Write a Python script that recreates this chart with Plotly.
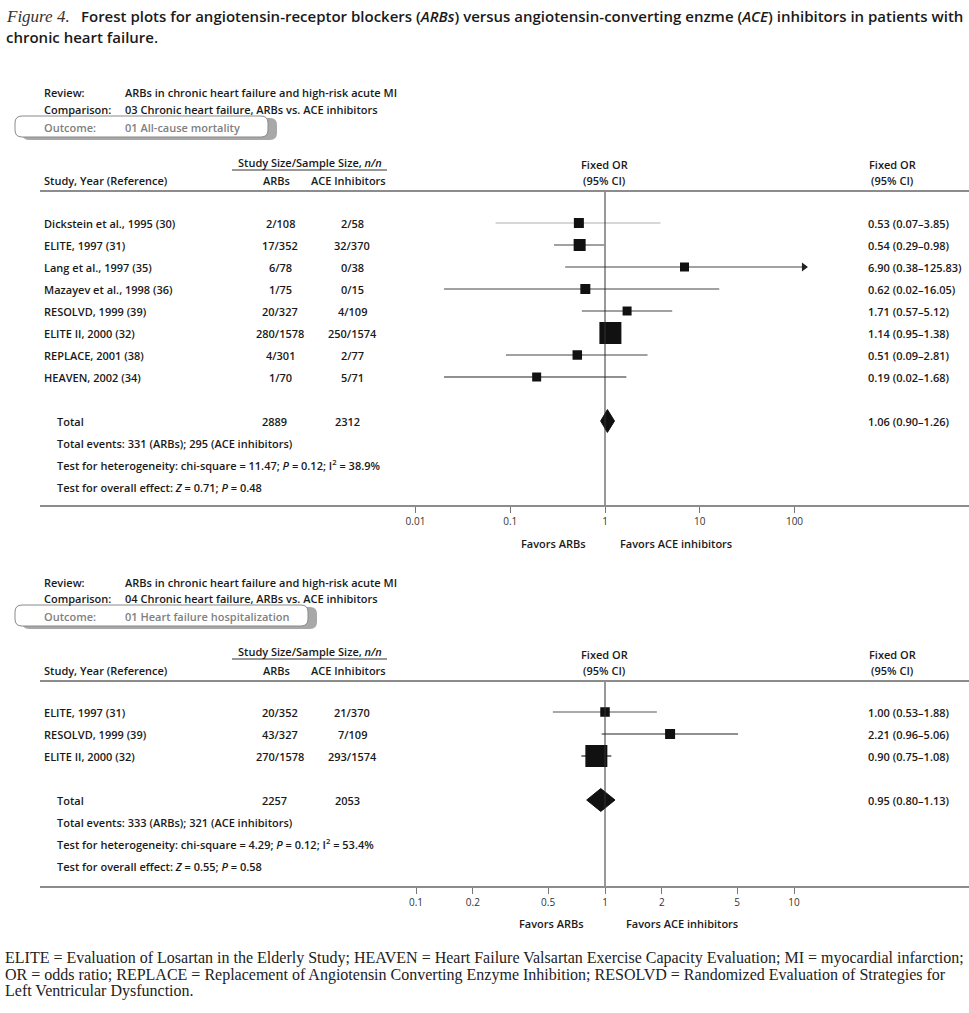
import plotly.graph_objects as go

W, H = 969, 1013
FONT = "Open Sans"
SERIF = "Liberation Serif"
TXT = "#1a1a1a"
WEIGHT = 600

# ---------------- data ----------------
top_studies = ["Dickstein et al., 1995 (30)", "ELITE, 1997 (31)", "Lang et al., 1997 (35)",
               "Mazayev et al., 1998 (36)", "RESOLVD, 1999 (39)", "ELITE II, 2000 (32)",
               "REPLACE, 2001 (38)", "HEAVEN, 2002 (34)"]
top_arb = ["2/108", "17/352", "6/78", "1/75", "20/327", "280/1578", "4/301", "1/70"]
top_ace = ["2/58", "32/370", "0/38", "0/15", "4/109", "250/1574", "2/77", "5/71"]
top_or = [0.53, 0.54, 6.90, 0.62, 1.71, 1.14, 0.51, 0.19]
top_lo = [0.07, 0.29, 0.38, 0.02, 0.57, 0.95, 0.09, 0.02]
top_hi = [3.85, 0.98, 125.83, 16.05, 5.12, 1.38, 2.81, 1.68]
top_total = {"arb": "2889", "ace": "2312", "or": 1.06, "lo": 0.90, "hi": 1.26}
top_notes = ["Total events: 331 (ARBs); 295 (ACE inhibitors)",
             "Test for heterogeneity: chi-square = 11.47; <i>P</i> = 0.12; I<sup>2</sup> = 38.9%",
             "Test for overall effect: <i>Z</i> = 0.71; <i>P</i> = 0.48"]
top_ticks = [0.01, 0.1, 1, 10, 100]
top_ticktext = ["0.01", "0.1", "1", "10", "100"]

bot_studies = ["ELITE, 1997 (31)", "RESOLVD, 1999 (39)", "ELITE II, 2000 (32)"]
bot_arb = ["20/352", "43/327", "270/1578"]
bot_ace = ["21/370", "7/109", "293/1574"]
bot_or = [1.00, 2.21, 0.90]
bot_lo = [0.53, 0.96, 0.75]
bot_hi = [1.88, 5.06, 1.08]
bot_total = {"arb": "2257", "ace": "2053", "or": 0.95, "lo": 0.80, "hi": 1.13}
bot_notes = ["Total events: 333 (ARBs); 321 (ACE inhibitors)",
             "Test for heterogeneity: chi-square = 4.29; <i>P</i> = 0.12; I<sup>2</sup> = 53.4%",
             "Test for overall effect: <i>Z</i> = 0.55; <i>P</i> = 0.58"]
bot_ticks = [0.1, 0.2, 0.5, 1, 2, 5, 10]
bot_ticktext = ["0.1", "0.2", "0.5", "1", "2", "5", "10"]

# box sizes (visual weight, px) and CI line colours (style)
top_box = [10, 12, 9, 10, 9, 22, 9.5, 9]
top_ci_col = ["#b0b0b0", "#444", "#444", "#444", "#444", "#444", "#444", "#222"]
bot_box = [9.5, 10, 22]
bot_ci_col = ["#555", "#222", "#222"]

footer = ["ELITE = Evaluation of Losartan in the Elderly Study; HEAVEN = Heart Failure Valsartan Exercise Capacity Evaluation; MI = myocardial infarction;",
          "OR = odds ratio; REPLACE = Replacement of Angiotensin Converting Enzyme Inhibition; RESOLVD = Randomized Evaluation of Strategies for",
          "Left Ventricular Dysfunction."]


def fx(px):
    return px / W


def fy(py):
    return 1 - py / H


fig = go.Figure()
annotations = []
shapes = []


def ann(text, x, y, xanchor="left", size=11, color=TXT, yref="paper", family=FONT,
        weight=WEIGHT, **kw):
    annotations.append(dict(text=text, x=fx(x), y=(fy(y) if yref == "paper" else y), xref="paper",
                            yref=yref, xanchor=xanchor, yanchor="middle", showarrow=False,
                            font=dict(family=family, size=size, color=color, weight=weight), **kw))


def rounded_box(x0, y0, x1, y1, r, fill, line):
    rx, ry = r / W, r / H
    X0, X1, Y0, Y1 = fx(x0), fx(x1), fy(y0), fy(y1)
    path = (f"M {X0+rx},{Y0} L {X1-rx},{Y0} Q {X1},{Y0} {X1},{Y0-ry} "
            f"L {X1},{Y1+ry} Q {X1},{Y1} {X1-rx},{Y1} L {X0+rx},{Y1} Q {X0},{Y1} {X0},{Y1+ry} "
            f"L {X0},{Y0-ry} Q {X0},{Y0} {X0+rx},{Y0} Z")
    shapes.append(dict(type="path", path=path, xref="paper", yref="paper", fillcolor=fill,
                       line=dict(color=line, width=1 if line else 0), layer="below"))


def panel(idx, studies, arb, ace, ors, los, his, total, notes, boxes, cicols,
          head_y, box_right, comparison, outcome, arrow_rows=()):
    xa = "x" if idx == 1 else "x2"
    ya = "y" if idx == 1 else "y2"
    # header block
    ann("Review:", 42, head_y)
    ann("ARBs in chronic heart failure and high-risk acute MI", 123, head_y)
    ann("Comparison:", 42, head_y + 16.5)
    ann(comparison, 123, head_y + 16.5)
    oy = head_y + 34
    rounded_box(22, oy - 9, box_right + 9, oy + 13, 7, "#a8a8a8", None)
    rounded_box(15, oy - 11, box_right, oy + 10, 7, "white", "#8a8a8a")
    ann("Outcome:", 42, oy, color="#808080")
    ann(outcome, 123, oy, color="#808080")
    # column headers
    hy = head_y + 69
    ann("Study Size/Sample Size, <i>n/n</i>", 310, hy, xanchor="center")
    shapes.append(dict(type="line", xref="paper", yref="paper", x0=fx(232), x1=fx(387),
                       y0=fy(hy + 8), y1=fy(hy + 8), line=dict(color="#333", width=1)))
    ann("Study, Year (Reference)", 42, hy + 19)
    ann("ARBs", 276, hy + 19, xanchor="center")
    ann("ACE Inhibitors", 348, hy + 19, xanchor="center")
    ann("Fixed OR", 604, hy + 3, xanchor="center")
    ann("(95% CI)", 604, hy + 19, xanchor="center")
    ann("Fixed OR", 892, hy + 3, xanchor="center")
    ann("(95% CI)", 892, hy + 19, xanchor="center")

    n = len(studies)
    rows = list(range(n))
    for r in rows:
        ann(studies[r], 42, r, yref=ya)
        ann(arb[r], 280, r, yref=ya, xanchor="center")
        ann(ace[r], 352, r, yref=ya, xanchor="center")
        ann(f"{ors[r]:.2f} ({los[r]:.2f}–{his[r]:.2f})", 866, r, yref=ya)
        fig.add_trace(go.Scatter(x=[los[r], his[r]], y=[r, r], mode="lines", xaxis=xa, yaxis=ya,
                                 line=dict(color=cicols[r], width=1.2), showlegend=False,
                                 hoverinfo="skip"))
        if r in arrow_rows:
            fig.add_trace(go.Scatter(x=[his[r]], y=[r], mode="markers", xaxis=xa, yaxis=ya,
                                     marker=dict(symbol="triangle-right", size=8, color="#222"),
                                     showlegend=False, hoverinfo="skip"))
    fig.add_trace(go.Scatter(x=ors, y=rows, mode="markers", xaxis=xa, yaxis=ya, opacity=1,
                             marker=dict(symbol="square", size=boxes, color="#111111",
                                         opacity=1, line=dict(width=0)),
                             showlegend=False))
    tr = n + 1
    ann("Total", 55, tr, yref=ya)
    ann(total["arb"], 274, tr, yref=ya, xanchor="center")
    ann(total["ace"], 347, tr, yref=ya, xanchor="center")
    ann(f"{total['or']:.2f} ({total['lo']:.2f}–{total['hi']:.2f})", 866, tr, yref=ya)
    h = 0.52
    fig.add_trace(go.Scatter(x=[total["lo"], total["or"], total["hi"], total["or"], total["lo"]],
                             y=[tr, tr - h, tr, tr + h, tr], mode="lines", fill="toself",
                             fillcolor="#111111", line=dict(color="#111111", width=1),
                             xaxis=xa, yaxis=ya, showlegend=False))
    for k, t in enumerate(notes):
        ann(t, 55, tr + 1 + k, yref=ya)
    # vertical line at OR = 1
    shapes.append(dict(type="line", xref=xa, yref=f"{ya} domain", x0=1, x1=1, y0=0, y1=1,
                       line=dict(color="#333", width=1)))


panel(1, top_studies, top_arb, top_ace, top_or, top_lo, top_hi, top_total, top_notes,
      top_box, top_ci_col, 93, 268,
      "03 Chronic heart failure, ARBs vs. ACE inhibitors", "01 All-cause mortality",
      arrow_rows=(2,))
panel(2, bot_studies, bot_arb, bot_ace, bot_or, bot_lo, bot_hi, bot_total, bot_notes,
      bot_box, bot_ci_col, 582, 308,
      "04 Chronic heart failure, ARBs vs. ACE inhibitors", "01 Heart failure hospitalization")

# favours labels
ann("Favors ARBs", 588, 543, xanchor="right")
ann("Favors ACE inhibitors", 618, 543)
ann("Favors ARBs", 586, 923, xanchor="right")
ann("Favors ACE inhibitors", 624, 923)

# title
ann("<i>Figure 4.</i>", 4, 16, family=SERIF, size=17, color="#333", weight=400)
ann("Forest plots for angiotensin-receptor blockers (<i>ARBs</i>) versus angiotensin-converting enzme (<i>ACE</i>) inhibitors in patients with",
    79, 16, size=15)
ann("chronic heart failure.", 4, 37, size=15)

# footer
for k, t in enumerate(footer):
    ann(t, 3, 958 + 16.5 * k, family=SERIF, size=16, color="#222", weight=400)

axis_common = dict(type="log", showgrid=False, zeroline=False, showline=True, mirror=True,
                   linecolor="#8c8c8c", linewidth=1.6, ticks="outside", ticklen=6,
                   tickcolor="#777", tickwidth=1, tickfont=dict(family=FONT, size=10, color="#333"),
                   domain=[fx(40), 1])


def yrange(top_px, bot_px, row0, pitch=22):
    # row r sits at pixel row0 + pitch * r
    return [(bot_px - row0) / pitch, (top_px - row0) / pitch]


fig.update_layout(
    width=W, height=H, margin=dict(l=0, r=0, t=0, b=0),
    paper_bgcolor="white", plot_bgcolor="white", showlegend=False,
    xaxis=dict(axis_common, range=[(40 - 605) / 94.75, (969 - 605) / 94.75],
               tickvals=top_ticks, ticktext=top_ticktext, anchor="y"),
    yaxis=dict(range=yrange(192, 505, 223), domain=[fy(505), fy(192)], visible=False),
    xaxis2=dict(axis_common, range=[(40 - 605) / 189, (969 - 605) / 189],
                tickvals=bot_ticks, ticktext=bot_ticktext, anchor="y2"),
    yaxis2=dict(range=yrange(682, 886, 712), domain=[fy(886), fy(682)], visible=False),
    annotations=annotations, shapes=shapes,
)

fig.write_html("out.html", config={"displayModeBar": False},
               post_script="document.body.style.margin='0px';")
